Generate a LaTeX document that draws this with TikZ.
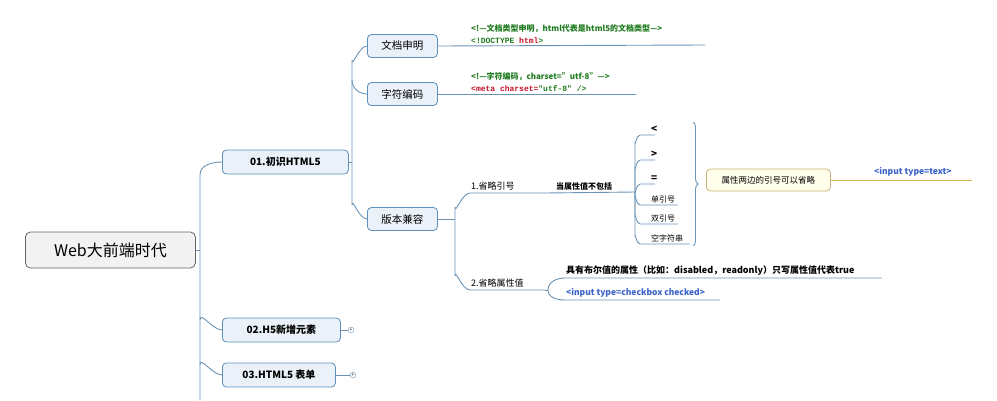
\documentclass[tikz,border=0pt]{standalone}
\usepackage{fontspec}
\setmainfont{Noto Sans CJK SC}
\newfontfamily\codefont{Liberation Mono}
\usetikzlibrary{decorations.pathreplacing}
\definecolor{ln}{HTML}{6A93B5}
\definecolor{bb}{HTML}{5E8FBC}
\definecolor{bf}{HTML}{EAF1F8}
\definecolor{gr}{HTML}{1E7A1E}
\definecolor{rd}{HTML}{C0102A}
\definecolor{bl}{HTML}{3A62C8}
\definecolor{gd}{HTML}{D9B64E}
\begin{document}
\begin{tikzpicture}[x=1pt,y=-1pt,
  conn/.style={draw=ln,line width=0.9pt},
  topic/.style={draw=bb,fill=bf,rounded corners=4pt,line width=0.8pt,font=\fontsize{10}{12}\selectfont\bfseries,minimum height=24pt,inner xsep=6pt,anchor=west},
  sub/.style={draw=bb,fill=bf,rounded corners=4pt,line width=0.8pt,font=\fontsize{10.5}{12}\selectfont,minimum height=23pt,minimum width=70pt,anchor=west},
  lbl/.style={font=\fontsize{9}{10}\selectfont,anchor=south west,inner sep=1pt},
  plus/.style={circle,draw=ln,inner sep=0pt,minimum size=6pt,font=\fontsize{5}{5}\selectfont}]
\useasboundingbox (0,0) rectangle (997,400);
% root
\node[draw=gray!80!black,fill=gray!10,rounded corners=5pt,minimum width=170pt,minimum height=36pt,font=\fontsize{16}{18}\selectfont,anchor=west,line width=0.8pt] (root) at (25,250) {Web大前端时代};
\node[topic,minimum width=126pt] (t1) at (222,162) {01.初识HTML5};
\node[topic,minimum width=118pt] (t2) at (222,330) {02.H5新增元素};
\node[topic,minimum width=113pt] (t3) at (222,375) {03.HTML5 表单};
\node[plus] (p2) at (351,330) {+};
\node[plus] (p3) at (353,375) {+};
\draw[conn] (root.east) -- (200,250);
\draw[conn] (200,400) -- (200,175) to[out=90,in=180] (t1.west);
\draw[conn] (200,320) to[out=90,in=180] (t2.west);
\draw[conn] (200,365) to[out=90,in=180] (t3.west);
\draw[conn] (t2.east) -- (p2.west);
\draw[conn] (t3.east) -- (p3.west);
% level 2
\node[sub] (s1) at (367,46) {文档申明};
\node[sub] (s2) at (367,94) {字符编码};
\node[sub] (s3) at (367,219) {版本兼容};
\draw[conn] (t1.east) -- (352,162);
\draw[conn] (352,162) -- (352,60) to[out=-90,in=180] (s1.west);
\draw[conn] (352,80) to[out=-90,in=180] (s2.west);
\draw[conn] (352,162) -- (352,205) to[out=90,in=180] (s3.west);
% doc lines
\coordinate (e1) at (705,45);
\coordinate (e2) at (636,94);
\draw[conn] (s1.east) -- (e1);
\draw[conn] (s2.east) -- (e2);
\node[lbl,text=gr,font=\fontsize{8}{9}\selectfont\bfseries] at (470,34) {<!—文档类型申明，html代表是html5的文档类型—>};
\node[lbl,font=\codefont\fontsize{8}{9}\selectfont\bfseries] at (470,45) {\textcolor{gr}{<!DOCTYPE} \textcolor{rd}{html}\textcolor{gr}{>}};
\node[lbl,text=gr,font=\fontsize{8}{9}\selectfont\bfseries] at (470,82) {<!—字符编码，charset="utf-8"—>};
\node[lbl,font=\codefont\fontsize{8}{9}\selectfont\bfseries] at (470,93) {\textcolor{rd}{<meta charset=}\textcolor{gr}{"utf-8" />}};
% 版本兼容 children
\coordinate (a1) at (545,193);
\coordinate (a2) at (545,290);
\node[lbl] (l1) at (470,191) {1.省略引号};
\node[lbl] (l2) at (470,288) {2.省略属性值};
\draw[conn] (s3.east) -- (455,219);
\draw[conn] (455,219) -- (455,207) to[out=-90,in=180] (470,193) -- (a1);
\draw[conn] (455,219) -- (455,276) to[out=90,in=180] (470,290) -- (a2);
% 当属性值不包括
\coordinate (b1) at (635,192);
\node[lbl,font=\fontsize{8}{10}\selectfont\bfseries] (l3) at (555,191) {当属性值不包括};
\draw[conn] (a1) -- (b1);
\foreach \y/\t/\w [count=\i] in {135/\bfseries\fontsize{10}{10}\selectfont </655,160/\bfseries\fontsize{10}{10}\selectfont >/655,184/\bfseries\fontsize{10}{10}\selectfont =/655,205/单引号/678,224/双引号/678,244/空字符串/690}{
  \node[lbl,font=\fontsize{8}{10}\selectfont] (c\i) at (650,\y-1) {\t};
  \draw[conn] (\w,\y) -- (640,\y) to[out=180,in=\ifdim\y pt<192pt -90\else 90\fi] (635,\ifdim\y pt<192pt \y+8\else \y-8\fi) -- (635,192);
}
\draw[conn,decorate,decoration={brace,amplitude=5pt}] (693,122) -- (693,246);
\node[draw=gd!80!black!70,fill=yellow!8,rounded corners=4pt,line width=0.8pt,font=\fontsize{8.5}{10}\selectfont,minimum height=22pt,minimum width=124pt,anchor=west] (q) at (706,180) {属性两边的引号可以省略};
\coordinate (g1) at (972,180);
\draw[draw=gd,line width=0.9pt] (q.east) -- (g1);
\node[lbl,text=bl,font=\fontsize{8.5}{10}\selectfont\bfseries] at (873,178) {<input type=text>};
% 省略属性值 children
\coordinate (d1) at (882,278);
\coordinate (d2) at (720,300);
\draw[conn] (a2) -- (548,290);
\draw[conn] (d1) -- (565,278) to[out=180,in=90] (548,290) to[out=-90,in=180] (565,300) -- (d2);
\node[lbl,font=\fontsize{9}{10}\selectfont\bfseries] at (565,277) {具有布尔值的属性（比如：disabled，readonly）只写属性值代表true};
\node[lbl,text=bl,font=\fontsize{8.5}{10}\selectfont\bfseries] at (565,299) {<input type=checkbox checked>};
\end{tikzpicture}
\end{document}
